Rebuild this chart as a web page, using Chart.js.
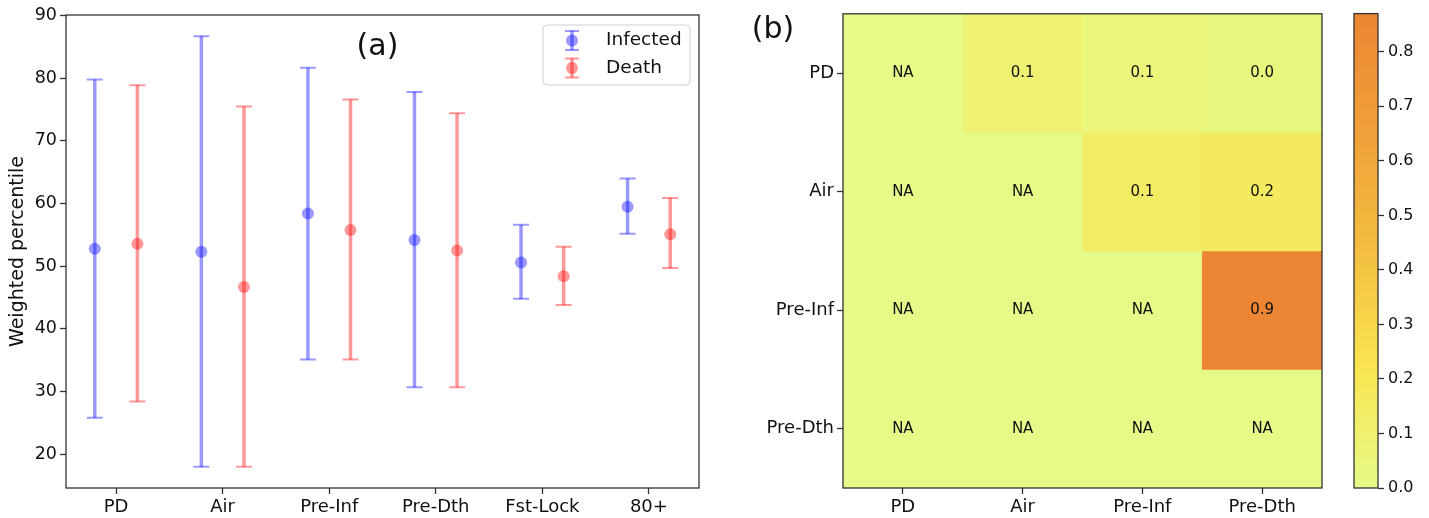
<!DOCTYPE html>
<html><head><meta charset="utf-8">
<script src="https://cdn.jsdelivr.net/npm/chart.js@4.4.1/dist/chart.umd.min.js"></script>
<style>
html,body{margin:0;padding:0;background:#fff;width:1429px;height:518px;overflow:hidden}
.c{position:absolute;top:0;height:518px}
</style></head><body>
<div class="c" style="left:0;width:720px"><canvas id="ca"></canvas></div>
<div class="c" style="left:740px;width:600px"><canvas id="cb"></canvas></div>
<div class="c" style="left:1340px;width:89px"><canvas id="cc"></canvas></div>
<script>
// ---------- data: panel (a) ----------
const categories = ['PD', 'Air', 'Pre-Inf', 'Pre-Dth', 'Fst-Lock', '80+'];
const infectedMean = [52.8, 52.3, 58.4, 54.2, 50.6, 59.5];
const infectedLow  = [25.8, 18.0, 35.1, 30.7, 44.8, 55.2];
const infectedHigh = [79.8, 86.7, 81.7, 77.8, 56.6, 64.0];
const deathMean = [53.6, 46.7, 55.8, 52.5, 48.4, 55.1];
const deathLow  = [28.4, 18.0, 35.1, 30.7, 43.8, 49.7];
const deathHigh = [78.9, 75.5, 76.6, 74.4, 53.1, 60.9];
const yTicks = [20, 30, 40, 50, 60, 70, 80, 90];

// ---------- data: panel (b) ----------
const heatCols = ['PD', 'Air', 'Pre-Inf', 'Pre-Dth'];
const heatRows = ['PD', 'Air', 'Pre-Inf', 'Pre-Dth'];
const rowPD     = [null, 0.09, 0.055, 0.04];
const rowAir    = [null, null, 0.14, 0.165];
const rowPreInf = [null, null, null, 0.87];
const rowPreDth = [null, null, null, null];
const colorbarTicks = [0, 0.1, 0.2, 0.3, 0.4, 0.5, 0.6, 0.7, 0.8];

// ---------- styling ----------
const FONT = 'DejaVu Sans';
Chart.defaults.font.family = FONT;
Chart.defaults.color = '#111';
Chart.defaults.animation = false;
const SPINE = '#333';
const cmapStops = [
  {t: 0.00, c: [230, 250, 136]},
  {t: 0.25, c: [249, 229, 82]},
  {t: 0.50, c: [243, 190, 64]},
  {t: 0.75, c: [240, 160, 57]},
  {t: 1.00, c: [236, 134, 52]}
];
function cmap(t) {
  t = Math.max(0, Math.min(1, t));
  for (let i = 1; i < cmapStops.length; i++) {
    const a = cmapStops[i - 1], b = cmapStops[i];
    if (t <= b.t) {
      const f = (t - a.t) / (b.t - a.t);
      const c = a.c.map((v, k) => Math.round(v + (b.c[k] - v) * f));
      return `rgb(${c[0]},${c[1]},${c[2]})`;
    }
  }
  const c = cmapStops[cmapStops.length - 1].c;
  return `rgb(${c[0]},${c[1]},${c[2]})`;
}

const framePlugin = {
  id: 'frame',
  afterDraw(chart) {
    const {ctx, chartArea: a} = chart;
    ctx.save();
    ctx.strokeStyle = SPINE;
    ctx.lineWidth = 1.3;
    ctx.strokeRect(a.left, a.top, a.right - a.left, a.bottom - a.top);
    ctx.restore();
  }
};

// ---------- panel (a) ----------
const OFF = 0.2;
const BLUE = 'rgba(0,0,255,0.4)';
const RED = 'rgba(255,0,0,0.4)';

const errorBarPlugin = {
  id: 'errorBars',
  beforeDatasetsDraw(chart) {
    const {ctx, scales: {x, y}} = chart;
    ctx.save();
    chart.data.datasets.forEach(ds => {
      ds.data.forEach((p, i) => {
        const px = x.getPixelForValue(p.x);
        const yl = y.getPixelForValue(ds.low[i]);
        const yh = y.getPixelForValue(ds.high[i]);
        ctx.strokeStyle = ds.backgroundColor;
        ctx.lineWidth = 3.5;
        ctx.beginPath(); ctx.moveTo(px, yl); ctx.lineTo(px, yh); ctx.stroke();
        ctx.lineWidth = 2;
        ctx.beginPath();
        ctx.moveTo(px - 8, yl); ctx.lineTo(px + 8, yl);
        ctx.moveTo(px - 8, yh); ctx.lineTo(px + 8, yh);
        ctx.stroke();
      });
    });
    ctx.restore();
  }
};

const legendTitlePlugin = {
  id: 'legendTitle',
  afterDraw(chart) {
    const {ctx, chartArea: a} = chart;
    ctx.save();
    // title (a)
    ctx.fillStyle = '#111';
    ctx.font = `30px '${FONT}'`;
    ctx.textAlign = 'center';
    ctx.textBaseline = 'middle';
    ctx.fillText('(a)', (a.left + a.right) / 2 - 5, 47);
    // legend box
    const bx = 543, by = 25, bw = 147, bh = 60, r = 4;
    ctx.beginPath();
    ctx.moveTo(bx + r, by);
    ctx.arcTo(bx + bw, by, bx + bw, by + bh, r);
    ctx.arcTo(bx + bw, by + bh, bx, by + bh, r);
    ctx.arcTo(bx, by + bh, bx, by, r);
    ctx.arcTo(bx, by, bx + bw, by, r);
    ctx.closePath();
    ctx.fillStyle = 'rgba(255,255,255,0.8)';
    ctx.fill();
    ctx.strokeStyle = '#d0d0d0';
    ctx.lineWidth = 1;
    ctx.stroke();
    chart.data.datasets.forEach((ds, k) => {
      const cy = 40.5 + k * 27.5;
      const sx = 572;
      ctx.strokeStyle = ds.backgroundColor;
      ctx.lineWidth = 3.5;
      ctx.beginPath(); ctx.moveTo(sx, cy - 9.5); ctx.lineTo(sx, cy + 9.5); ctx.stroke();
      ctx.lineWidth = 2;
      ctx.beginPath();
      ctx.moveTo(sx - 7, cy - 9.5); ctx.lineTo(sx + 7, cy - 9.5);
      ctx.moveTo(sx - 7, cy + 9.5); ctx.lineTo(sx + 7, cy + 9.5);
      ctx.stroke();
      ctx.fillStyle = ds.backgroundColor;
      ctx.beginPath(); ctx.arc(sx, cy, 6, 0, Math.PI * 2); ctx.fill();
      ctx.fillStyle = '#111';
      ctx.font = `18.5px '${FONT}'`;
      ctx.textAlign = 'left';
      ctx.textBaseline = 'middle';
      ctx.fillText(ds.label, 606, cy);
    });
    ctx.restore();
  }
};

new Chart(document.getElementById('ca'), {
  type: 'scatter',
  data: {
    datasets: [
      {label: 'Infected', data: infectedMean.map((v, i) => ({x: i - OFF, y: v})),
       low: infectedLow, high: infectedHigh, backgroundColor: BLUE, borderWidth: 0, pointRadius: 6, pointHoverRadius: 6},
      {label: 'Death', data: deathMean.map((v, i) => ({x: i + OFF, y: v})),
       low: deathLow, high: deathHigh, backgroundColor: RED, borderWidth: 0, pointRadius: 6, pointHoverRadius: 6}
    ]
  },
  options: {
    responsive: true, maintainAspectRatio: false,
    layout: {padding: {left: 0, right: 21, top: 15, bottom: 0}},
    plugins: {legend: {display: false}, tooltip: {enabled: false}},
    scales: {
      x: {
        type: 'linear', min: -0.47, max: 5.47,
        afterBuildTicks: s => { s.ticks = categories.map((_, i) => ({value: i})); },
        afterFit: s => { s.height = 30; },
        ticks: {callback: v => categories[v], font: {size: 18}, color: '#111', padding: 3, maxRotation: 0, autoSkip: false},
        grid: {drawOnChartArea: false, drawTicks: true, tickLength: 6, tickColor: SPINE, tickWidth: 1.3},
        border: {display: false}
      },
      y: {
        type: 'linear', min: 14.6, max: 90.1,
        afterBuildTicks: s => { s.ticks = yTicks.map(v => ({value: v})); },
        afterFit: s => { s.width = 66; },
        ticks: {font: {size: 17.5}, color: '#111', padding: 3},
        grid: {drawOnChartArea: false, drawTicks: true, tickLength: 6, tickColor: SPINE, tickWidth: 1.3},
        border: {display: false},
        title: {display: true, text: 'Weighted percentile', font: {size: 19}, color: '#111', padding: {top: 7, bottom: 0}}
      }
    }
  },
  plugins: [errorBarPlugin, framePlugin, legendTitlePlugin]
});

// ---------- panel (b) ----------
const heatData = [rowPD, rowAir, rowPreInf, rowPreDth];
const vmax = Math.max(...heatData.flat().filter(v => v !== null));

const cellTextPlugin = {
  id: 'cellText',
  afterDatasetsDraw(chart) {
    const {ctx} = chart;
    ctx.save();
    ctx.fillStyle = '#111';
    ctx.font = `15px '${FONT}'`;
    ctx.textAlign = 'center';
    ctx.textBaseline = 'middle';
    chart.data.datasets.forEach((ds, ri) => {
      const meta = chart.getDatasetMeta(ri);
      meta.data.forEach((el, j) => {
        const {x, y, base} = el.getProps(['x', 'y', 'base'], true);
        const v = ds.values[j];
        ctx.fillText(v === null ? 'NA' : v.toFixed(1), x, (y + base) / 2);
      });
    });
    // panel label
    ctx.font = `30px '${FONT}'`;
    ctx.fillText('(b)', 33, 30);
    ctx.restore();
  }
};

new Chart(document.getElementById('cb'), {
  type: 'bar',
  data: {
    labels: heatCols,
    datasets: heatRows.map((r, ri) => ({
      label: r,
      data: heatCols.map(() => [ri - 0.5, ri + 0.5]),
      values: heatData[ri],
      backgroundColor: heatData[ri].map(v => cmap((v === null ? 0 : v) / vmax)),
      borderWidth: 0,
      grouped: false,
      barPercentage: 1,
      categoryPercentage: 1
    }))
  },
  options: {
    responsive: true, maintainAspectRatio: false,
    layout: {padding: {left: 0, right: 18, top: 10, bottom: 0}},
    plugins: {legend: {display: false}, tooltip: {enabled: false}},
    scales: {
      x: {
        type: 'category',
        afterFit: s => { s.height = 30; },
        ticks: {font: {size: 18}, color: '#111', padding: 3, maxRotation: 0, autoSkip: false},
        grid: {offset: false, drawOnChartArea: false, drawTicks: true, tickLength: 6, tickColor: SPINE, tickWidth: 1.3},
        border: {display: false}
      },
      y: {
        type: 'linear', min: -0.5, max: 3.5, reverse: true,
        afterBuildTicks: s => { s.ticks = heatRows.map((_, i) => ({value: i})); },
        afterFit: s => { s.width = 103; },
        ticks: {callback: v => heatRows[v], font: {size: 18}, color: '#111', padding: 3},
        grid: {drawOnChartArea: false, drawTicks: true, tickLength: 6, tickColor: SPINE, tickWidth: 1.3},
        border: {display: false}
      }
    }
  },
  plugins: [cellTextPlugin, framePlugin]
});

// ---------- colorbar ----------
new Chart(document.getElementById('cc'), {
  type: 'bar',
  data: {
    labels: ['colorbar'],
    datasets: [{
      data: [[0, vmax]],
      borderWidth: 0,
      barPercentage: 1,
      categoryPercentage: 1,
      backgroundColor: (c) => {
        const ch = c.chart;
        if (!ch.chartArea || !ch.scales.y) return cmap(0);
        const ys = ch.scales.y;
        const g = ch.ctx.createLinearGradient(0, ys.getPixelForValue(0), 0, ys.getPixelForValue(vmax));
        cmapStops.forEach(s => g.addColorStop(s.t, `rgb(${s.c.join(',')})`));
        return g;
      }
    }]
  },
  options: {
    responsive: true, maintainAspectRatio: false,
    layout: {padding: {left: 14, right: 0, top: 10, bottom: 30}},
    plugins: {legend: {display: false}, tooltip: {enabled: false}},
    scales: {
      x: {display: false},
      y: {
        type: 'linear', position: 'right', min: 0, max: vmax,
        afterBuildTicks: s => { s.ticks = colorbarTicks.map(v => ({value: v})); },
        afterFit: s => { s.width = 51; },
        ticks: {callback: v => v.toFixed(1), font: {size: 16}, color: '#111', padding: 4},
        grid: {drawOnChartArea: false, drawTicks: true, tickLength: 6, tickColor: SPINE, tickWidth: 1.3},
        border: {display: false}
      }
    }
  },
  plugins: [framePlugin]
});
</script>
</body></html>
